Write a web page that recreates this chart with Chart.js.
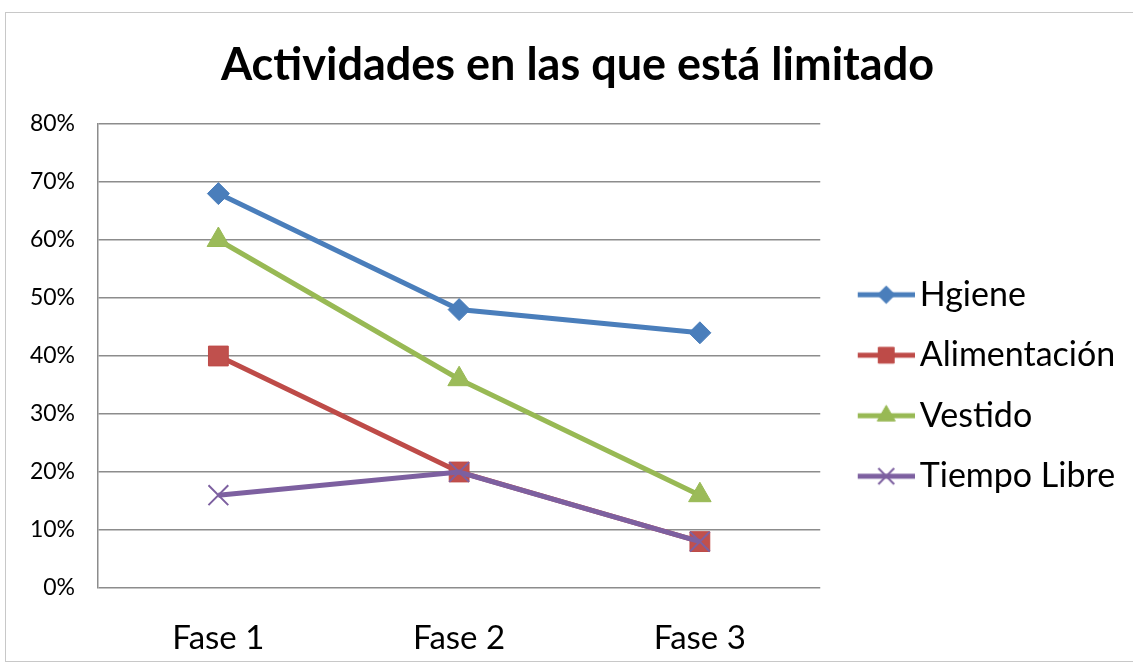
<!DOCTYPE html>
<html>
<head>
<meta charset="utf-8">
<script src="https://cdn.jsdelivr.net/npm/chart.js@4.4.0/dist/chart.umd.min.js"></script>
<style>
  html, body { margin: 0; padding: 0; background: #fff; }
  #frame { position: absolute; left: 5px; top: 12px; width: 1140px; height: 648px; border: 1px solid #c8c8c8; }
  #wrap { position: absolute; left: 0; top: 0; width: 1133px; height: 666px; }
</style>
</head>
<body>
<div id="frame"></div>
<div id="wrap"><canvas id="limitadochart"></canvas></div>
<script>
  // Setup Block
  const fases = ['Fase 1', 'Fase 2', 'Fase 3'];
  const hgiene = [68, 48, 44];
  const alimentacion = [40, 20, 8];
  const vestido = [60, 36, 16];
  const tiempoLibre = [16, 20, 8];
  const yTicks = [0, 10, 20, 30, 40, 50, 60, 70, 80];

  const FONT = "Lato, 'Open Sans', sans-serif";

  // line + marker picture used as the legend symbol
  function legendIcon(color, style, radius, markerBorder) {
    const c = document.createElement('canvas');
    c.width = 80;
    c.height = 34;
    const ctx = c.getContext('2d');
    ctx.strokeStyle = color;
    ctx.lineWidth = 5;
    ctx.beginPath();
    ctx.moveTo(23, 17);
    ctx.lineTo(80, 17);
    ctx.stroke();
    ctx.fillStyle = color;
    ctx.strokeStyle = color;
    ctx.lineWidth = markerBorder;
    Chart.helpers.drawPoint(ctx, { pointStyle: style, radius: radius * 0.8, rotation: 0, borderWidth: markerBorder }, 51.5, 17);
    return c;
  }

  // title sits a bit right of the canvas centre in the original,
  // and the legend text runs out to the right edge
  const layoutTweak = {
    id: 'layoutTweak',
    afterLayout(chart) {
      chart.titleBlock.left += 24;
      chart.titleBlock.right += 24;
      chart.legend.right = chart.width;
      chart.legend.width = chart.legend.right - chart.legend.left;
    }
  };

  const data_limitado = {
    labels: fases,
    datasets: [{
      label: 'Hgiene',
      data: hgiene,
      borderColor: '#4a7ebb',
      backgroundColor: '#4a7ebb',
      pointStyle: 'rectRot',
      pointRadius: 11,
      order: 4
    }, {
      label: 'Alimentación',
      data: alimentacion,
      borderColor: '#be4b48',
      backgroundColor: '#c0504d',
      pointStyle: 'rect',
      pointRadius: 14,
      order: 3
    }, {
      label: 'Vestido',
      data: vestido,
      borderColor: '#98b954',
      backgroundColor: '#9bbb59',
      pointStyle: 'triangle',
      pointRadius: 13,
      order: 2
    }, {
      label: 'Tiempo Libre',
      data: tiempoLibre,
      borderColor: '#7d60a0',
      backgroundColor: '#7d60a0',
      pointStyle: 'crossRot',
      pointRadius: 14,
      pointBorderWidth: 2,
      order: 1
    }]
  };

  // Config Block
  const config_limitado = {
    type: 'line',
    data: data_limitado,
    plugins: [layoutTweak],
    options: {
      responsive: true,
      maintainAspectRatio: false,
      animation: false,
      layout: {
        padding: { left: 20, right: 46, top: 0, bottom: 7 }
      },
      elements: {
        line: { borderWidth: 5, tension: 0 },
        point: { borderWidth: 1 }
      },
      scales: {
        x: {
          offset: true,
          afterFit: (axis) => { axis.height = 71; },
          grid: { display: false, drawTicks: false },
          border: { display: false },
          ticks: {
            color: '#000',
            padding: 31,
            font: { family: FONT, size: 33 }
          }
        },
        y: {
          min: 0,
          max: 80,
          afterBuildTicks: (axis) => { axis.ticks = yTicks.map(v => ({ value: v })); },
          afterFit: (axis) => { axis.width = 78; },
          grid: { color: '#8c8c8c', lineWidth: 1.5, drawTicks: false },
          border: { display: true, color: '#8c8c8c', width: 1.5 },
          ticks: {
            color: '#000',
            padding: 23,
            font: { family: FONT, size: 23 },
            callback: (v) => v + '%'
          }
        }
      },
      plugins: {
        title: {
          display: true,
          text: 'Actividades en las que está limitado',
          color: '#000',
          font: { family: FONT, size: 45, weight: 'bold' },
          padding: { top: 38, bottom: 32 }
        },
        legend: {
          position: 'right',
          title: {
            display: true,
            text: '',
            font: { size: 10 },
            padding: 50
          },
          labels: {
            usePointStyle: true,
            pointStyleWidth: 56,
            padding: 26.5,
            color: '#000',
            font: { family: FONT, size: 34 },
            generateLabels: (chart) => chart.data.datasets.map((ds, i) => ({
              text: ds.label,
              datasetIndex: i,
              fontColor: '#000',
              lineWidth: 0,
              hidden: false,
              pointStyle: legendIcon(ds.borderColor, ds.pointStyle, ds.pointRadius, ds.pointBorderWidth || 1)
            }))
          }
        },
        tooltip: { enabled: false }
      }
    }
  };

  // Render Block
  const limitadochart = new Chart(
    document.getElementById('limitadochart'),
    config_limitado
  );
</script>
</body>
</html>
